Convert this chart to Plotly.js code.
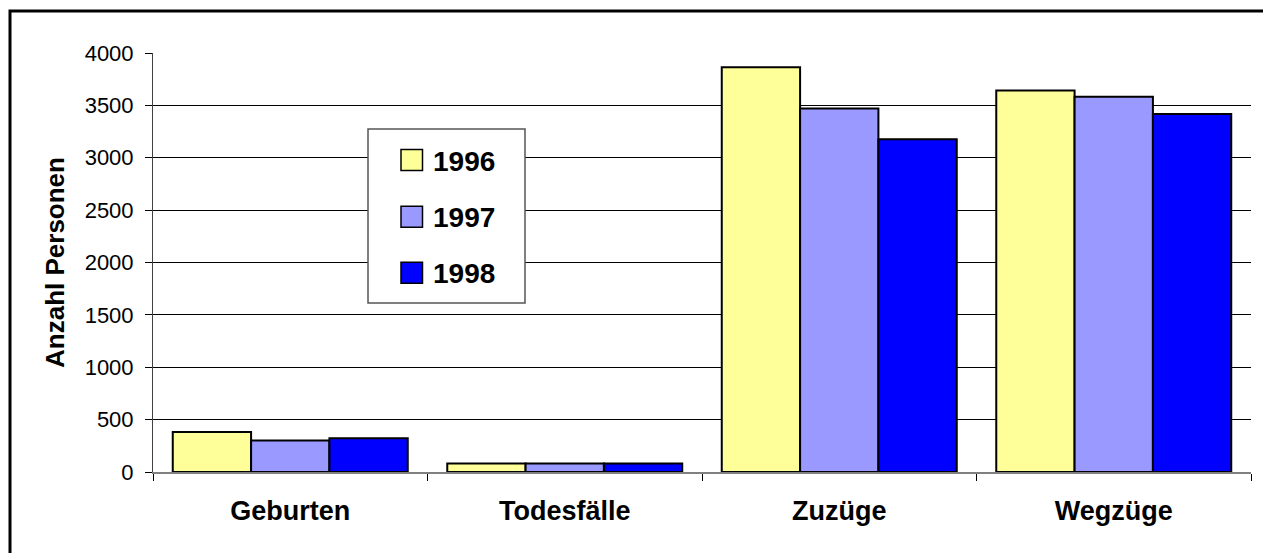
<!DOCTYPE html>
<html>
<head>
<meta charset="utf-8">
<script src="https://cdn.plot.ly/plotly-3.0.1.min.js"></script>
<style>
  html, body { margin: 0; padding: 0; background: #ffffff; }
  #chart { width: 1263px; height: 553px; }
</style>
</head>
<body>
<div id="chart"></div>
<script>
// ---- Data ----
const categories = ["Geburten", "Todesfälle", "Zuzüge", "Wegzüge"];
const seriesNames = ["1996", "1997", "1998"];
const values1996 = [382, 80, 3863, 3643];
const values1997 = [300, 80, 3471, 3583];
const values1998 = [322, 80, 3176, 3417];
const yTickValues = [0, 500, 1000, 1500, 2000, 2500, 3000, 3500, 4000];
const yAxisTitle = "Anzahl Personen";

// ---- Styles ----
const colors = ["#FFFF99", "#9999FF", "#0000FF"];
const FONT = "Liberation Sans, Arial, Helvetica, sans-serif";
const allValues = [values1996, values1997, values1998];

const traces = allValues.map((vals, i) => ({
  type: "bar",
  name: seriesNames[i],
  x: categories,
  y: vals,
  marker: { color: colors[i], line: { color: "#000000", width: 2 } },
  showlegend: false,
  hoverinfo: "x+y+name"
}));

// plot area in pixels: x 153..1251, y 53..472
const L = 153, R = 12, T = 53, B = 81;
const W = 1263 - L - R, H = 553 - T - B;
const px = x => (x - L) / W;
const py = y => (553 - B - y) / H;

const shapes = [];
const annotations = [];

// outer frame
shapes.push({
  type: "rect", xref: "paper", yref: "paper",
  x0: px(10), x1: px(1300), y0: py(600), y1: py(11),
  line: { color: "#000000", width: 3 }, fillcolor: "rgba(0,0,0,0)", layer: "above"
});

// legend box
shapes.push({
  type: "rect", xref: "paper", yref: "paper",
  x0: px(368), x1: px(525), y0: py(303), y1: py(129),
  line: { color: "#555555", width: 1.5 }, fillcolor: "#ffffff", layer: "above"
});
const rowCenters = [160, 216.7, 272.7];
seriesNames.forEach((name, i) => {
  const cy = rowCenters[i];
  shapes.push({
    type: "rect", xref: "paper", yref: "paper",
    x0: px(401), x1: px(422.5), y0: py(cy + 10.5), y1: py(cy - 10.5),
    line: { color: "#000000", width: 1.5 }, fillcolor: colors[i], layer: "above"
  });
  annotations.push({
    xref: "paper", yref: "paper", x: px(431), y: py(cy + 1),
    xanchor: "left", yanchor: "middle", showarrow: false,
    text: "<b>" + name + "</b>",
    font: { family: FONT, size: 28, color: "#000000" }
  });
});

const layout = {
  width: 1263, height: 553,
  margin: { l: L, r: R, t: T, b: B, pad: 0 },
  paper_bgcolor: "#ffffff",
  plot_bgcolor: "#ffffff",
  barmode: "group",
  bargap: 0.144,
  bargroupgap: 0,
  showlegend: false,
  font: { family: FONT, color: "#000000" },
  xaxis: {
    type: "category",
    tickson: "boundaries",
    ticks: "outside", ticklen: 7, tickwidth: 1, tickcolor: "#000000",
    showline: true, linecolor: "#808080", linewidth: 2,
    showgrid: false, zeroline: false,
    tickfont: { family: FONT, size: 27, color: "#000000", weight: "bold" },
    ticklabelstandoff: 14,
    fixedrange: true
  },
  yaxis: {
    range: [0, 4000],
    tickvals: yTickValues,
    ticktext: yTickValues.map(String),
    ticks: "outside", ticklen: 7, tickwidth: 1, tickcolor: "#000000",
    showline: true, linecolor: "#404040", linewidth: 1,
    showgrid: true, gridcolor: "#000000", gridwidth: 1,
    zeroline: false,
    tickfont: { family: FONT, size: 22, color: "#000000" },
    ticklabelstandoff: 7,
    title: {
      text: "<b>" + yAxisTitle + "</b>",
      font: { family: FONT, size: 26, color: "#000000" },
      standoff: 12
    },
    automargin: false,
    fixedrange: true
  },
  shapes: shapes,
  annotations: annotations
};

Plotly.newPlot("chart", traces, layout, { displayModeBar: false, staticPlot: true });
</script>
</body>
</html>
